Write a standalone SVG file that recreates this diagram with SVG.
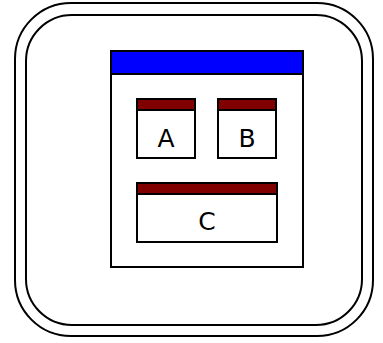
<svg xmlns="http://www.w3.org/2000/svg" width="383" height="343" viewBox="0 0 383 343">
  <style>
    .frame { fill: none; stroke: #000; stroke-width: 2; }
    .box { fill: #fff; stroke: #000; stroke-width: 2; }
    .title { fill: #800000; stroke: #000; stroke-width: 2; }
    .main-title { fill: #0000ff; stroke: #000; stroke-width: 2; }
    .label { font-family: "DejaVu Sans", sans-serif; font-size: 25px; fill: #000; text-anchor: middle; }
  </style>
  <rect width="383" height="343" fill="#fff"/>
  <!-- double rounded frame -->
  <g id="frame">
    <rect class="frame" x="15" y="3" width="358" height="333" rx="56" ry="56"/>
    <rect class="frame" x="26" y="15" width="336" height="310" rx="46" ry="46"/>
  </g>
  <!-- main window -->
  <g id="window">
    <rect class="box" x="111" y="51" width="192" height="216"/>
    <rect class="main-title" x="111" y="51" width="192" height="23"/>
  </g>
  <g id="A">
    <rect class="box" x="137" y="99" width="58" height="59"/>
    <rect class="title" x="137" y="99" width="58" height="11"/>
    <text class="label" x="166" y="147">A</text>
  </g>
  <g id="B">
    <rect class="box" x="218" y="99" width="58" height="59"/>
    <rect class="title" x="218" y="99" width="58" height="11"/>
    <text class="label" x="247" y="147">B</text>
  </g>
  <g id="C">
    <rect class="box" x="137" y="183" width="140" height="59"/>
    <rect class="title" x="137" y="183" width="140" height="11"/>
    <text class="label" x="207" y="230">C</text>
  </g>
  <g id="connectors"/>
</svg>
